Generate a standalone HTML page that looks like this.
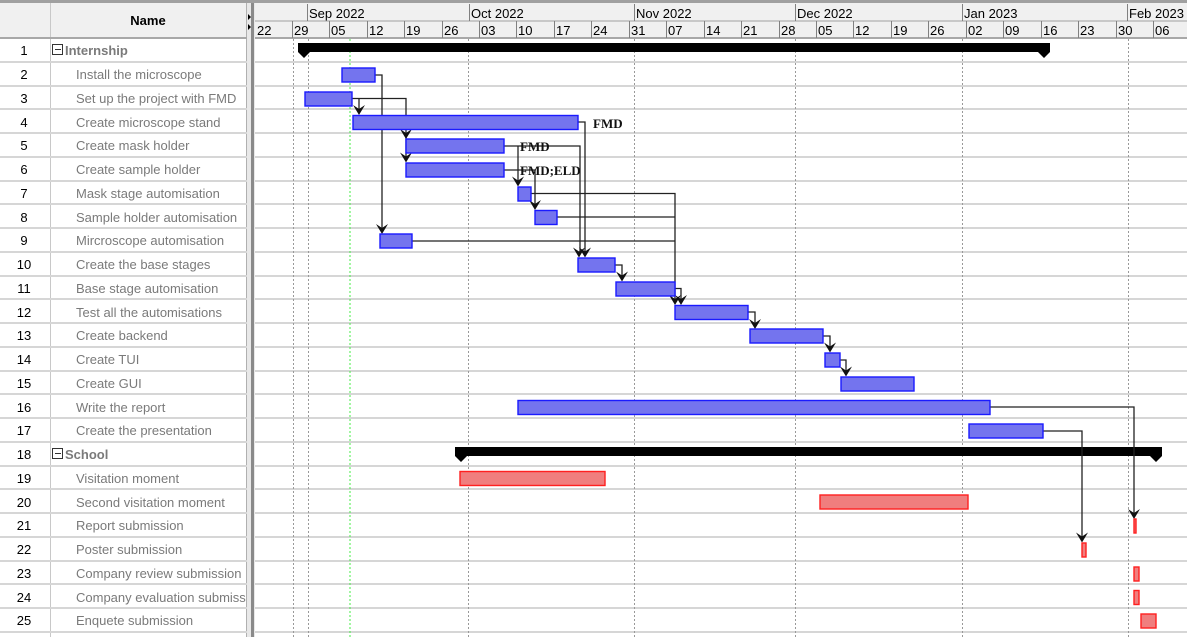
<!DOCTYPE html>
<html><head><meta charset="utf-8"><style>
html,body{margin:0;padding:0;background:#fff;}
svg{display:block;font-family:"Liberation Sans",sans-serif;}
.nm{font-size:13px;fill:#7a7a7a;}
.num{font-size:13px;fill:#000;text-anchor:middle;}
.hd{font-size:13px;fill:#000;}
.lb{font-family:"Liberation Serif",serif;font-weight:bold;font-size:13px;fill:#111;}
.b{fill:#7474ee;stroke:#1a1aff;stroke-width:1.4;}
.r{fill:#f07e7e;stroke:#ff2020;stroke-width:1.4;}
.c{fill:none;stroke:#222;stroke-width:1.3;}
</style></head><body>
<svg width="1187" height="637" viewBox="0 0 1187 637" xmlns="http://www.w3.org/2000/svg">
<defs>
<g id="ah"><path d="M-6,-10 L0,0 L6,-10 L0,-6 Z" fill="#111"/></g>
</defs>
<rect x="0" y="0" width="1187" height="38" fill="#f0f0f0"/>
<rect x="0" y="0" width="1187" height="3" fill="#a0a0a0"/>
<rect x="0" y="38" width="246" height="599" fill="#fff"/>
<line x1="50.5" y1="3" x2="50.5" y2="637" stroke="#c8c8c8"/>
<line x1="246.5" y1="3" x2="246.5" y2="637" stroke="#b0b0b0"/>
<text x="148" y="25" class="hd" text-anchor="middle" font-weight="bold" font-size="14">Name</text>
<line x1="0" y1="38" x2="1187" y2="38" stroke="#a8a8a8" stroke-width="2"/>
<line x1="255" y1="21" x2="1187" y2="21" stroke="#a0a0a0"/>
<g stroke="#808080">
<line x1="307.5" y1="4" x2="307.5" y2="21"/><line x1="469.5" y1="4" x2="469.5" y2="21"/><line x1="634.5" y1="4" x2="634.5" y2="21"/><line x1="795.5" y1="4" x2="795.5" y2="21"/><line x1="962.5" y1="4" x2="962.5" y2="21"/><line x1="1127.5" y1="4" x2="1127.5" y2="21"/>
</g>
<g class="hd">
<text x="309" y="18">Sep 2022</text><text x="471" y="18">Oct 2022</text><text x="636" y="18">Nov 2022</text><text x="797" y="18">Dec 2022</text><text x="964" y="18">Jan 2023</text><text x="1129" y="18">Feb 2023</text>
</g>
<g stroke="#808080">
<line x1="292.5" y1="21" x2="292.5" y2="38"/><line x1="329.5" y1="21" x2="329.5" y2="38"/><line x1="367.5" y1="21" x2="367.5" y2="38"/><line x1="404.5" y1="21" x2="404.5" y2="38"/><line x1="442.5" y1="21" x2="442.5" y2="38"/><line x1="479.5" y1="21" x2="479.5" y2="38"/><line x1="516.5" y1="21" x2="516.5" y2="38"/><line x1="554.5" y1="21" x2="554.5" y2="38"/><line x1="591.5" y1="21" x2="591.5" y2="38"/><line x1="629.5" y1="21" x2="629.5" y2="38"/><line x1="666.5" y1="21" x2="666.5" y2="38"/><line x1="704.5" y1="21" x2="704.5" y2="38"/><line x1="741.5" y1="21" x2="741.5" y2="38"/><line x1="779.5" y1="21" x2="779.5" y2="38"/><line x1="816.5" y1="21" x2="816.5" y2="38"/><line x1="853.5" y1="21" x2="853.5" y2="38"/><line x1="891.5" y1="21" x2="891.5" y2="38"/><line x1="928.5" y1="21" x2="928.5" y2="38"/><line x1="966.5" y1="21" x2="966.5" y2="38"/><line x1="1003.5" y1="21" x2="1003.5" y2="38"/><line x1="1041.5" y1="21" x2="1041.5" y2="38"/><line x1="1078.5" y1="21" x2="1078.5" y2="38"/><line x1="1116.5" y1="21" x2="1116.5" y2="38"/><line x1="1153.5" y1="21" x2="1153.5" y2="38"/>
</g>
<g class="hd">
<text x="257" y="35">22</text><text x="294" y="35">29</text><text x="331" y="35">05</text><text x="369" y="35">12</text><text x="406" y="35">19</text><text x="444" y="35">26</text><text x="481" y="35">03</text><text x="518" y="35">10</text><text x="556" y="35">17</text><text x="593" y="35">24</text><text x="631" y="35">31</text><text x="668" y="35">07</text><text x="706" y="35">14</text><text x="743" y="35">21</text><text x="781" y="35">28</text><text x="818" y="35">05</text><text x="855" y="35">12</text><text x="893" y="35">19</text><text x="930" y="35">26</text><text x="968" y="35">02</text><text x="1005" y="35">09</text><text x="1043" y="35">16</text><text x="1080" y="35">23</text><text x="1118" y="35">30</text><text x="1155" y="35">06</text>
</g>
<g stroke="#d6d6d6" stroke-width="2">
<line x1="0" y1="62" x2="1187" y2="62"/><line x1="0" y1="86" x2="1187" y2="86"/><line x1="0" y1="109" x2="1187" y2="109"/><line x1="0" y1="133" x2="1187" y2="133"/><line x1="0" y1="157" x2="1187" y2="157"/><line x1="0" y1="181" x2="1187" y2="181"/><line x1="0" y1="204" x2="1187" y2="204"/><line x1="0" y1="228" x2="1187" y2="228"/><line x1="0" y1="252" x2="1187" y2="252"/><line x1="0" y1="276" x2="1187" y2="276"/><line x1="0" y1="299" x2="1187" y2="299"/><line x1="0" y1="323" x2="1187" y2="323"/><line x1="0" y1="347" x2="1187" y2="347"/><line x1="0" y1="371" x2="1187" y2="371"/><line x1="0" y1="394" x2="1187" y2="394"/><line x1="0" y1="418" x2="1187" y2="418"/><line x1="0" y1="442" x2="1187" y2="442"/><line x1="0" y1="466" x2="1187" y2="466"/><line x1="0" y1="489" x2="1187" y2="489"/><line x1="0" y1="513" x2="1187" y2="513"/><line x1="0" y1="537" x2="1187" y2="537"/><line x1="0" y1="561" x2="1187" y2="561"/><line x1="0" y1="584" x2="1187" y2="584"/><line x1="0" y1="608" x2="1187" y2="608"/><line x1="0" y1="632" x2="1187" y2="632"/>
</g>
<rect x="247" y="3" width="8" height="634" fill="#e8e8e8"/>
<rect x="251" y="3" width="3" height="634" fill="#8a8a8a"/>
<path d="M248,14 l3,3 l-3,3z M248,24 l3,3 l-3,3z" fill="#000"/>
<g stroke="#999" stroke-width="1" stroke-dasharray="2,2">
<line x1="293.5" y1="39" x2="293.5" y2="637"/><line x1="308.5" y1="39" x2="308.5" y2="637"/><line x1="468.5" y1="39" x2="468.5" y2="637"/><line x1="634.5" y1="39" x2="634.5" y2="637"/><line x1="795.5" y1="39" x2="795.5" y2="637"/><line x1="962.5" y1="39" x2="962.5" y2="637"/><line x1="1128.5" y1="39" x2="1128.5" y2="637"/>
</g>
<line x1="350" y1="39" x2="350" y2="637" stroke="#44ee44" stroke-width="1" stroke-dasharray="2,2"/>
<g class="num">
<text x="24" y="55">1</text><text x="24" y="79">2</text><text x="24" y="103">3</text><text x="24" y="127">4</text><text x="24" y="150">5</text><text x="24" y="174">6</text><text x="24" y="198">7</text><text x="24" y="222">8</text><text x="24" y="245">9</text><text x="24" y="269">10</text><text x="24" y="293">11</text><text x="24" y="317">12</text><text x="24" y="340">13</text><text x="24" y="364">14</text><text x="24" y="388">15</text><text x="24" y="412">16</text><text x="24" y="435">17</text><text x="24" y="459">18</text><text x="24" y="483">19</text><text x="24" y="507">20</text><text x="24" y="530">21</text><text x="24" y="554">22</text><text x="24" y="578">23</text><text x="24" y="602">24</text><text x="24" y="625">25</text>
</g>
<rect x="52.5" y="44.5" width="10" height="10" fill="#fff" stroke="#333"/><line x1="55" y1="49.5" x2="61" y2="49.5" stroke="#333"/>
<rect x="52.5" y="448.5" width="10" height="10" fill="#fff" stroke="#333"/><line x1="55" y1="453.5" x2="61" y2="453.5" stroke="#333"/>
<text x="65" y="55" class="nm" font-weight="bold" font-size="14">Internship</text>
<text x="65" y="459" class="nm" font-weight="bold" font-size="14">School</text>
<svg x="0" y="0" width="246" height="637">
<g class="nm">
<text x="76" y="79">Install the microscope</text><text x="76" y="103">Set up the project with FMD</text><text x="76" y="127">Create microscope stand</text><text x="76" y="150">Create mask holder</text><text x="76" y="174">Create sample holder</text><text x="76" y="198">Mask stage automisation</text><text x="76" y="222">Sample holder automisation</text><text x="76" y="245">Mircroscope automisation</text><text x="76" y="269">Create the base stages</text><text x="76" y="293">Base stage automisation</text><text x="76" y="317">Test all the automisations</text><text x="76" y="340">Create backend</text><text x="76" y="364">Create TUI</text><text x="76" y="388">Create GUI</text><text x="76" y="412">Write the report</text><text x="76" y="435">Create the presentation</text><text x="76" y="483">Visitation moment</text><text x="76" y="507">Second visitation moment</text><text x="76" y="530">Report submission</text><text x="76" y="554">Poster submission</text><text x="76" y="578">Company review submission</text><text x="76" y="602">Company evaluation submission</text><text x="76" y="625">Enquete submission</text>
</g>
</svg>
<path d="M298,43 H1050 V52 L1044,58 L1038,52 H310 L304,58 L298,52 Z" fill="#000"/>
<path d="M455,447 H1162 V456 L1156,462 L1150,456 H467 L461,462 L455,456 Z" fill="#000"/>
<g class="c">
<path d="M375,75 H382 V230"/>
<path d="M352,98.5 H406 V115"/>
<path d="M359,98.5 V111"/>
<path d="M406,129 V158"/>
<path d="M578,122 H585 V254"/>
<path d="M504,146 H580 V254"/>
<path d="M518,146 V182"/>
<path d="M504,170 H535 V206"/>
<path d="M531,193.5 H675 V301"/>
<path d="M557,217 H675"/>
<path d="M412,241 H675"/>
<path d="M615,265 H622 V278"/>
<path d="M675,288.5 H681 V301"/>
<path d="M748,312 H755 V325"/>
<path d="M823,336 H830 V349"/>
<path d="M840,360 H846 V373"/>
<path d="M990,407 H1134 V515"/>
<path d="M1043,431 H1082 V539"/>
</g>
<g>
<use href="#ah" x="382" y="234"/><use href="#ah" x="359" y="115"/><use href="#ah" x="406" y="139"/><use href="#ah" x="406" y="162.5"/>
<use href="#ah" x="585" y="257.5"/><use href="#ah" x="579" y="257.5"/><use href="#ah" x="518" y="186.5"/><use href="#ah" x="535" y="210"/>
<use href="#ah" x="675" y="305"/><use href="#ah" x="681" y="305"/><use href="#ah" x="622" y="281.5"/><use href="#ah" x="755" y="329"/>
<use href="#ah" x="830" y="352.5"/><use href="#ah" x="846" y="376.5"/><use href="#ah" x="1134" y="519"/><use href="#ah" x="1082" y="542.5"/>
</g>
<g class="b">
<rect x="342" y="68" width="33" height="14"/>
<rect x="305" y="92" width="47" height="14"/>
<rect x="353" y="115.5" width="225" height="14"/>
<rect x="406" y="139" width="98" height="14"/>
<rect x="406" y="163" width="98" height="14"/>
<rect x="518" y="187" width="13" height="14"/>
<rect x="535" y="210.5" width="22" height="14"/>
<rect x="380" y="234" width="32" height="14"/>
<rect x="578" y="258" width="37" height="14"/>
<rect x="616" y="282" width="59" height="14"/>
<rect x="675" y="305.5" width="73" height="14"/>
<rect x="750" y="329" width="73" height="14"/>
<rect x="825" y="353" width="15" height="14"/>
<rect x="841" y="377" width="73" height="14"/>
<rect x="518" y="400.5" width="472" height="14"/>
<rect x="969" y="424" width="74" height="14"/>
</g>
<g class="r">
<rect x="460" y="471.5" width="145" height="14"/>
<rect x="820" y="495" width="148" height="14"/>
<rect x="1134" y="519" width="2" height="14"/>
<rect x="1082" y="543" width="4" height="14"/>
<rect x="1134" y="567" width="5" height="14"/>
<rect x="1134" y="590.5" width="5" height="14"/>
<rect x="1141" y="614" width="15" height="14"/>
</g>
<text x="593" y="128" class="lb">FMD</text>
<text x="520" y="151" class="lb">FMD</text>
<text x="520" y="175" class="lb">FMD;ELD</text>
</svg>
</body></html>
